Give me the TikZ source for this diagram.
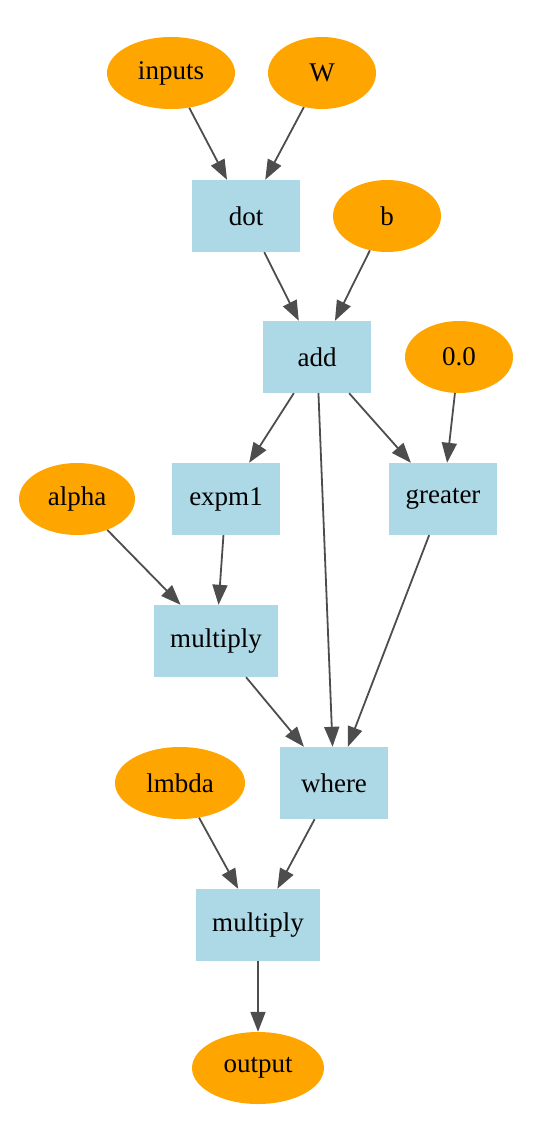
\documentclass[tikz,border=0pt]{standalone}
\usepackage{fontspec}
\setmainfont{Liberation Serif}
\usetikzlibrary{arrows.meta,shapes.geometric}
\definecolor{VarOrange}{HTML}{FFA500}
\definecolor{OpBlue}{HTML}{ADD8E6}
\definecolor{EdgeGray}{HTML}{4D4D4D}

\begin{document}
\begin{tikzpicture}[
          x=1pt, y=-1pt,
          every node/.style={font=\fontsize{27}{32}\selectfont, inner sep=0pt},
          var/.style={ellipse, fill=VarOrange, minimum width=108pt, minimum height=72pt},
          op/.style={rectangle, fill=OpBlue, minimum width=108pt, minimum height=72pt},
          flow/.style={draw=EdgeGray, line width=1.8pt, -{Triangle[length=20pt, width=15pt]}}
        ]
          \useasboundingbox (0,0) rectangle (535,1131);
          % variables
          \node[var, minimum width=128pt] (inputs) at (171,73) {inputs};
          \node[var] (W) at (322,73) {W};
          \node[var] (b) at (387,216) {b};
          \node[var] (zero) at (459,357) {0.0};
          \node[var, minimum width=116pt] (alpha) at (77,499) {alpha};
          \node[var, minimum width=130pt] (lmbda) at (180,783) {lmbda};
          \node[var, minimum width=132pt] (output) at (258,1068) {output};
          % operations
          \node[op] (dot) at (246,216) {dot};
          \node[op] (add) at (317,357) {add};
          \node[op] (expm) at (226,499) {expm1};
          \node[op] (greater) at (443,499) {greater};
          \node[op, minimum width=124pt] (mul) at (216,641) {multiply};
          \node[op] (where) at (334,783) {where};
          \node[op, minimum width=124pt] (mulout) at (258,925) {multiply};
          % edges
          \draw[flow] (inputs) -- (dot);
          \draw[flow] (W) -- (dot);
          \draw[flow] (dot) -- (add);
          \draw[flow] (b) -- (add);
          \draw[flow] (add) -- (expm);
          \draw[flow] (add) -- (where);
          \draw[flow] (add) -- (greater);
          \draw[flow] (zero) -- (greater);
          \draw[flow] (alpha) -- (mul);
          \draw[flow] (expm) -- (mul);
          \draw[flow] (mul) -- (where);
          \draw[flow] (greater) -- (where);
          \draw[flow] (lmbda) -- (mulout);
          \draw[flow] (where) -- (mulout);
          \draw[flow] (mulout) -- (output);
        \end{tikzpicture}
\end{document}
